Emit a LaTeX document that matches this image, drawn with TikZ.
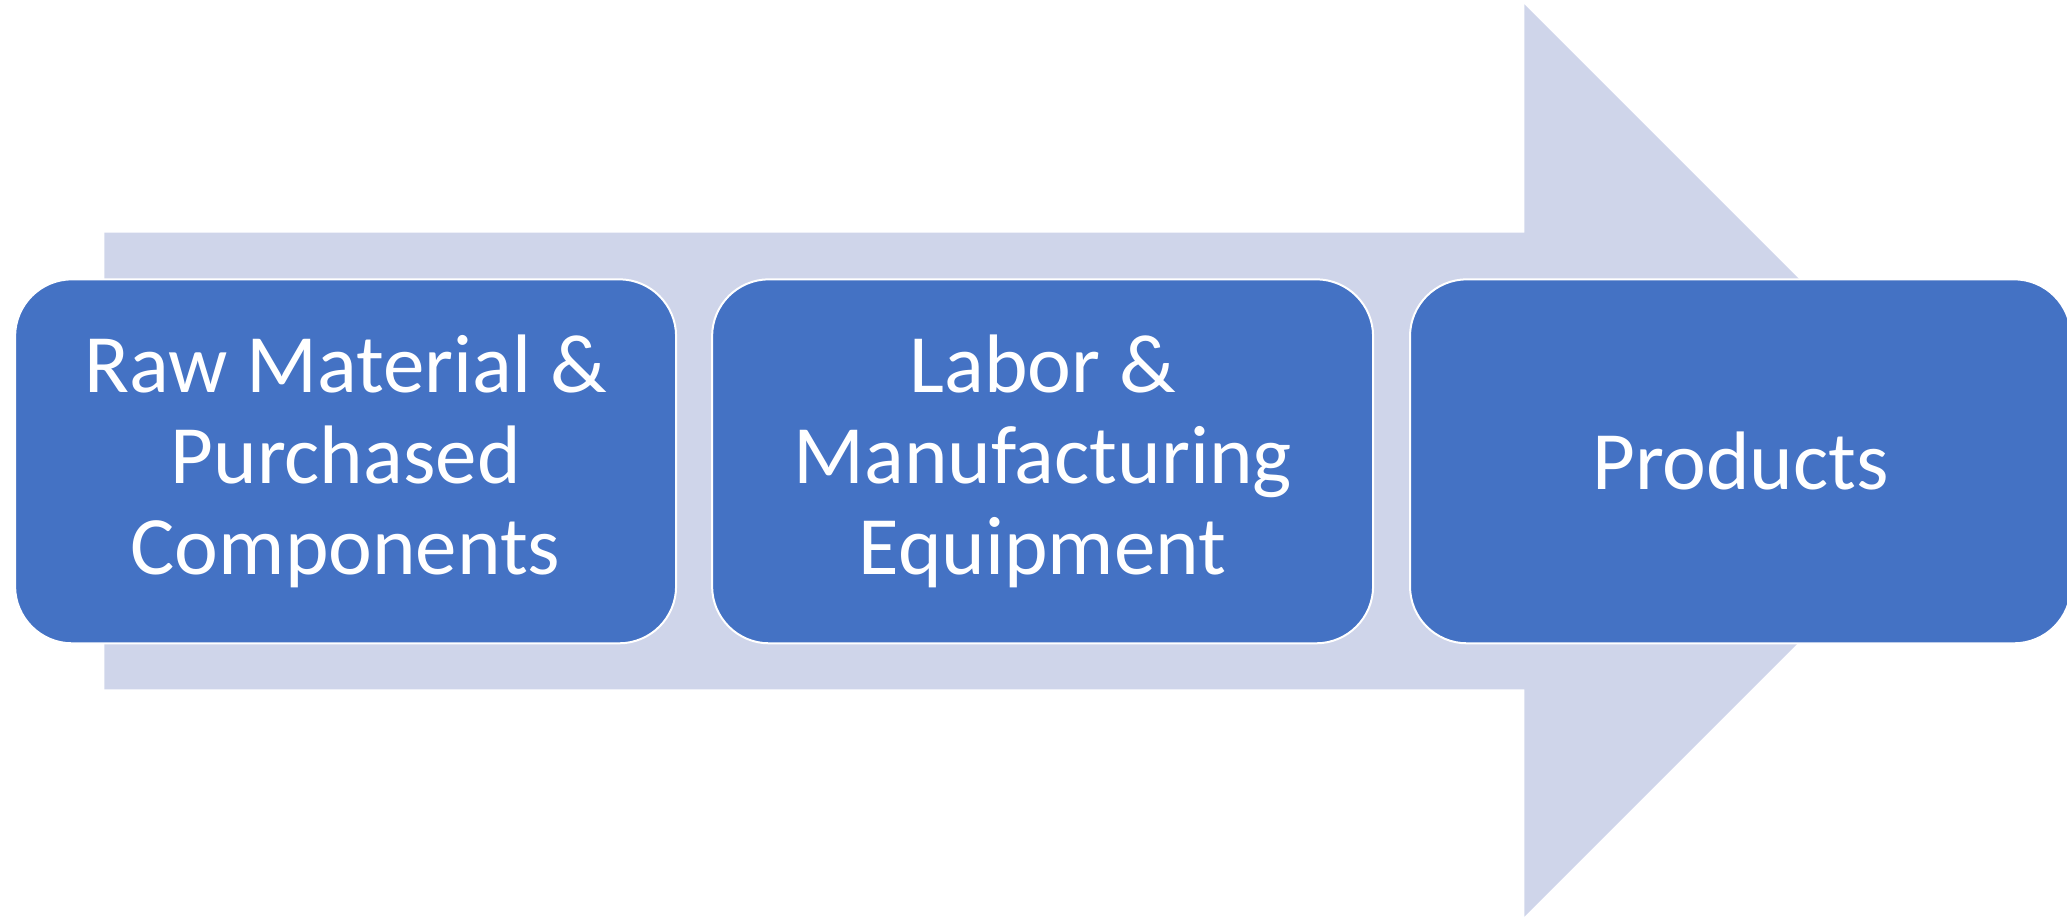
\documentclass[tikz,border=0pt]{standalone}
\usepackage{fontspec}
\setmainfont{Carlito}
\definecolor{arrowfill}{HTML}{CFD5EA}
\definecolor{boxfill}{HTML}{4472C4}
\tikzset{
  stagebox/.style={draw=white, line width=1pt, fill=boxfill, rounded corners=28.5pt,
    minimum width=330.5pt, minimum height=182pt, inner sep=0pt, align=center,
    text=white, font=\fontsize{41.5}{45.4}\selectfont},
  bigarrow/.style={fill=arrowfill, draw=none}
}
\begin{document}
\begin{tikzpicture}[x=0.5pt, y=-0.5pt]
\useasboundingbox (0,0) rectangle (2067,917);
% background arrow
\fill[bigarrow] (104.3,232.5) -- (1524.4,232.5) -- (1524.4,4.3) -- (1980.6,460.5)
  -- (1524.4,916.7) -- (1524.4,689.3) -- (104.3,689.3) -- cycle;
% boxes
\node[stagebox] (raw) at (345.6,461.3) {Raw Material \&\\Purchased\\Components};
\node[stagebox] (labor) at (1042.6,461.3) {Labor \&\\Manufacturing\\Equipment};
\node[stagebox] (prod) at (1740.5,461.3) {Products};
\end{tikzpicture}
\end{document}
